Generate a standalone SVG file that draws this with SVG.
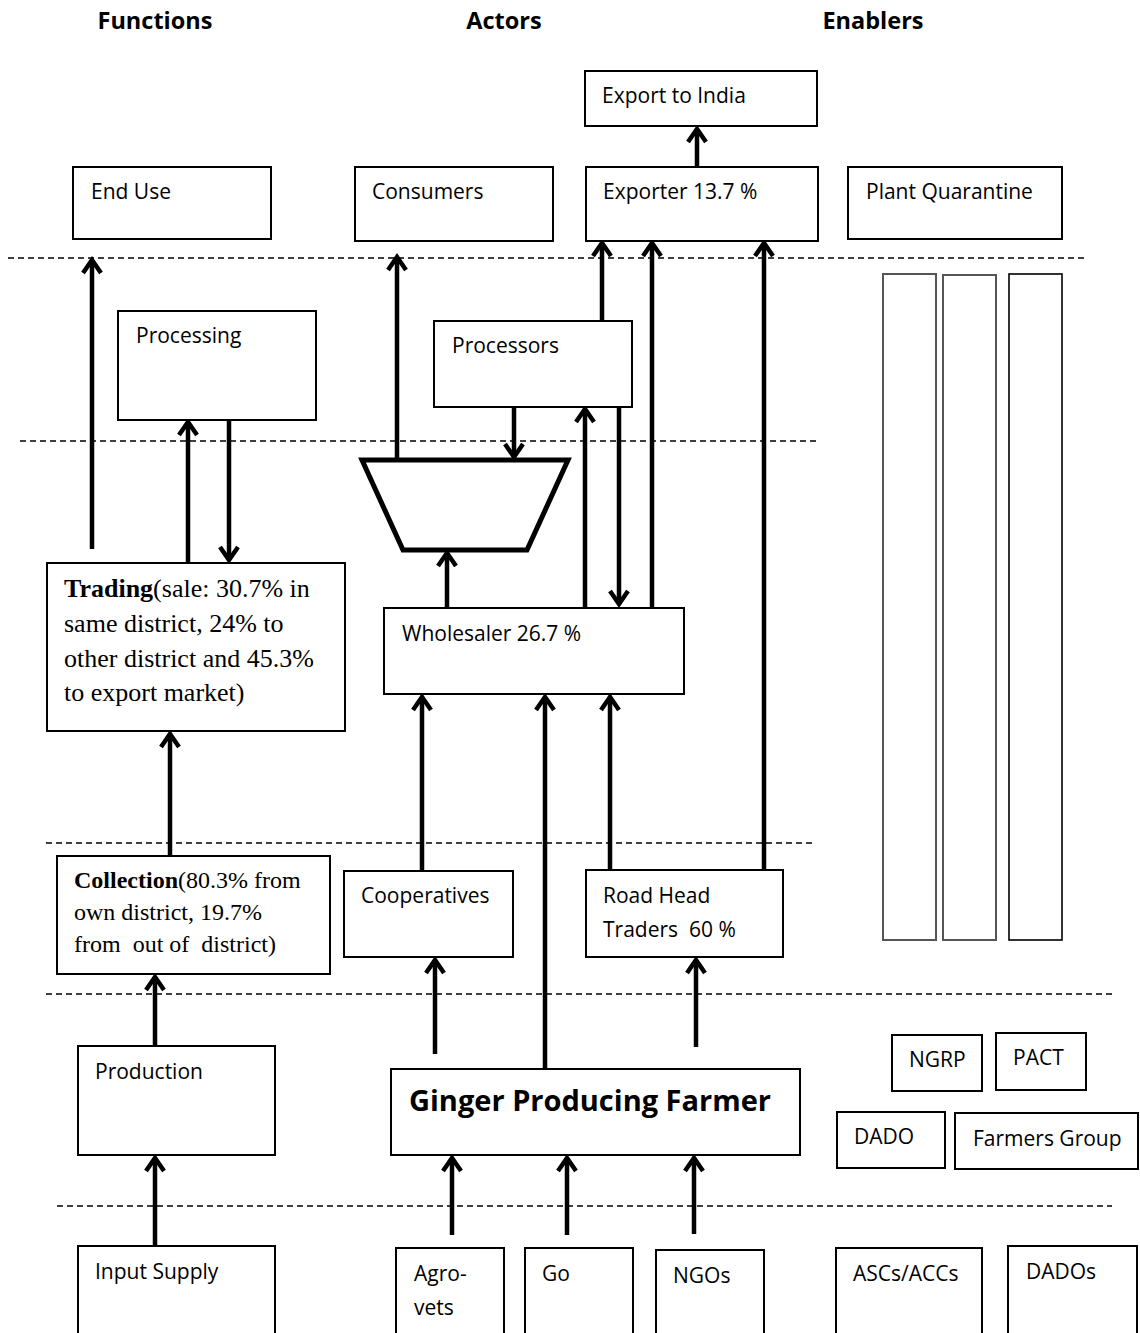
<svg xmlns="http://www.w3.org/2000/svg" width="1140" height="1333" viewBox="0 0 1140 1333">
<style>
.bx{fill:#fff;stroke:#000;stroke-width:2}
.bar{fill:#fff;stroke:#555;stroke-width:2}
.t{font-family:"Open Sans","Noto Sans",sans-serif;font-size:21px;fill:#000}
.h{font-family:"Open Sans","Noto Sans",sans-serif;font-size:23.5px;font-weight:bold;fill:#000}
.s{font-family:"Liberation Serif",serif;font-size:26px;fill:#000}
.s2{font-family:"Liberation Serif",serif;font-size:24px;fill:#000}
.dash{stroke:#000;stroke-width:1.6;stroke-dasharray:6 4;fill:none}
.ar{stroke:#000;stroke-width:4.5;fill:none;marker-end:url(#ah)}
</style>
<defs>
<marker id="ah" markerUnits="userSpaceOnUse" orient="auto" refX="0" refY="0" markerWidth="30" markerHeight="30" viewBox="-20 -15 30 30" overflow="visible">
<path d="M-13,-9 L0,0 L-13,9" fill="none" stroke="#000" stroke-width="4.5" stroke-linejoin="miter"/>
</marker>
</defs>
<rect width="1140" height="1333" fill="#fff"/>
<g id="headers">
<text class="h" x="155" y="29" text-anchor="middle">Functions</text>
<text class="h" x="504" y="29" text-anchor="middle">Actors</text>
<text class="h" x="873" y="29" text-anchor="middle">Enablers</text>
</g>
<g id="dividers">
<line class="dash" x1="8" y1="258" x2="1085" y2="258"/>
<line class="dash" x1="20" y1="441" x2="820" y2="441"/>
<line class="dash" x1="46" y1="843" x2="815" y2="843"/>
<line class="dash" x1="46" y1="994" x2="1113" y2="994"/>
<line class="dash" x1="57" y1="1206" x2="1112" y2="1206"/>
</g>
<g id="connectors">
<line class="ar" x1="92" y1="549" x2="92" y2="260"/>
<line class="ar" x1="188" y1="563" x2="188" y2="422"/>
<line class="ar" x1="229" y1="420" x2="229" y2="560"/>
<line class="ar" x1="397" y1="460" x2="397" y2="257"/>
<line class="ar" x1="602" y1="321" x2="602" y2="243"/>
<line class="ar" x1="652" y1="608" x2="652" y2="243"/>
<line class="ar" x1="764" y1="870" x2="764" y2="243"/>
<line class="ar" x1="697" y1="167" x2="697" y2="129"/>
<line class="ar" x1="514" y1="407" x2="514" y2="457"/>
<line class="ar" x1="585" y1="608" x2="585" y2="409"/>
<line class="ar" x1="619" y1="407" x2="619" y2="604"/>
<line class="ar" x1="447" y1="608" x2="447" y2="553"/>
<line class="ar" x1="422" y1="871" x2="422" y2="697"/>
<line class="ar" x1="545" y1="1069" x2="545" y2="697"/>
<line class="ar" x1="610" y1="870" x2="610" y2="697"/>
<line class="ar" x1="170" y1="856" x2="170" y2="734"/>
<line class="ar" x1="155" y1="1046" x2="155" y2="977"/>
<line class="ar" x1="435" y1="1054" x2="435" y2="960"/>
<line class="ar" x1="696" y1="1047" x2="696" y2="960"/>
<line class="ar" x1="155" y1="1246" x2="155" y2="1158"/>
<line class="ar" x1="452" y1="1235" x2="452" y2="1158"/>
<line class="ar" x1="567" y1="1235" x2="567" y2="1158"/>
<line class="ar" x1="694" y1="1234" x2="694" y2="1158"/>
</g>
<g id="export-india"><rect class="bx" x="585" y="71" width="232" height="55"/><text class="t" x="602" y="103">Export to India</text></g>
<g id="end-use"><rect class="bx" x="73" y="167" width="198" height="72"/><text class="t" x="91" y="199">End Use</text></g>
<g id="consumers"><rect class="bx" x="355" y="167" width="198" height="74"/><text class="t" x="372" y="199">Consumers</text></g>
<g id="exporter"><rect class="bx" x="586" y="167" width="232" height="74"/><text class="t" x="603" y="199">Exporter 13.7 %</text></g>
<g id="plant-quarantine"><rect class="bx" x="848" y="167" width="214" height="72"/><text class="t" x="866" y="199">Plant Quarantine</text></g>
<g id="processing"><rect class="bx" x="118" y="311" width="198" height="109"/><text class="t" x="136" y="343">Processing</text></g>
<g id="processors"><rect class="bx" x="434" y="321" width="198" height="86"/><text class="t" x="452" y="353">Processors</text></g>
<g id="enabler-bars">
<rect class="bar" x="883" y="274" width="53" height="666"/>
<rect class="bar" x="943" y="275" width="53" height="665"/>
<rect class="bx" x="1009" y="274" width="53" height="666" style="stroke-width:1.6"/>
</g>
<g id="retail"><polygon points="362,460 568,460 527,550 403,550" fill="#fff" stroke="#000" stroke-width="5"/></g>
<g id="trading"><rect class="bx" x="47" y="563" width="298" height="168"/>
<text class="s" x="64" y="597"><tspan font-weight="bold">Trading</tspan>(sale: 30.7% in</text>
<text class="s" x="64" y="632">same district, 24% to</text>
<text class="s" x="64" y="667">other district and 45.3%</text>
<text class="s" x="64" y="701">to export market)</text>
</g>
<g id="wholesaler"><rect class="bx" x="384" y="608" width="300" height="86"/><text class="t" x="402" y="641">Wholesaler 26.7 %</text></g>
<g id="collection"><rect class="bx" x="57" y="856" width="273" height="118"/>
<text class="s2" x="74" y="888"><tspan font-weight="bold">Collection</tspan>(80.3% from</text>
<text class="s2" x="74" y="920">own district, 19.7%</text>
<text class="s2" x="74" y="952" xml:space="preserve">from  out of  district)</text>
</g>
<g id="cooperatives"><rect class="bx" x="344" y="871" width="169" height="86"/><text class="t" x="361" y="903">Cooperatives</text></g>
<g id="road-head"><rect class="bx" x="586" y="870" width="197" height="87"/><text class="t" x="603" y="903">Road Head</text><text class="t" x="603" y="937" xml:space="preserve">Traders  60 %</text></g>
<g id="production"><rect class="bx" x="78" y="1046" width="197" height="109"/><text class="t" x="95" y="1079">Production</text></g>
<g id="farmer"><rect class="bx" x="391" y="1069" width="409" height="86"/><text class="h" x="409" y="1111" style="font-size:29px">Ginger Producing Farmer</text></g>
<g id="ngrp"><rect class="bx" x="892" y="1035" width="90" height="56"/><text class="t" x="909" y="1067">NGRP</text></g>
<g id="pact"><rect class="bx" x="996" y="1033" width="90" height="57"/><text class="t" x="1013" y="1065">PACT</text></g>
<g id="dado"><rect class="bx" x="837" y="1112" width="108" height="56"/><text class="t" x="854" y="1144">DADO</text></g>
<g id="farmers-group"><rect class="bx" x="955" y="1113" width="183" height="56"/><text class="t" x="973" y="1146">Farmers Group</text></g>
<g id="input-supply"><rect class="bx" x="78" y="1246" width="197" height="100"/><text class="t" x="95" y="1279">Input Supply</text></g>
<g id="agro-vets"><rect class="bx" x="396" y="1248" width="108" height="100"/><text class="t" x="414" y="1281">Agro-</text><text class="t" x="414" y="1315">vets</text></g>
<g id="go"><rect class="bx" x="525" y="1248" width="108" height="100"/><text class="t" x="542" y="1281">Go</text></g>
<g id="ngos"><rect class="bx" x="656" y="1250" width="108" height="100"/><text class="t" x="673" y="1283">NGOs</text></g>
<g id="ascs"><rect class="bx" x="836" y="1248" width="146" height="100"/><text class="t" x="853" y="1281">ASCs/ACCs</text></g>
<g id="dados"><rect class="bx" x="1008" y="1246" width="129" height="100"/><text class="t" x="1026" y="1279">DADOs</text></g>
</svg>
